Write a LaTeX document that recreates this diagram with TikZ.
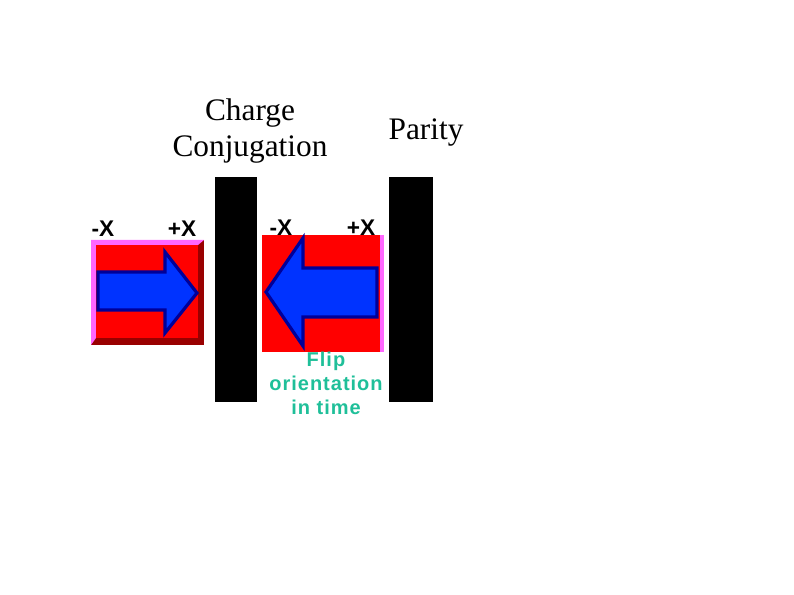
\documentclass[tikz,border=0pt]{standalone}
\usepackage{fontspec}
\setmainfont{Liberation Serif}
\setsansfont{Liberation Sans}
\newfontfamily\flipfont[LetterSpace=5]{Liberation Sans}
\usepackage{tikz}
\usetikzlibrary{positioning}
\definecolor{cardRed}{HTML}{FF0000}
\definecolor{cardDark}{HTML}{990000}
\definecolor{cardPink}{HTML}{FF66FF}
\definecolor{arrowBlue}{HTML}{0033FF}
\definecolor{arrowNavy}{HTML}{000099}
\definecolor{flipGreen}{HTML}{1FBF99}

\begin{document}
\begin{tikzpicture}[
  x=0.75pt, y=-0.75pt,
  title/.style={font=\fontsize{23.5}{27}\selectfont, align=center, inner sep=0pt},
  axislabel/.style={font=\sffamily\bfseries\fontsize{17}{20}\selectfont, inner sep=0pt},
  mirror/.style={fill=black},
  arrowshape/.style={fill=arrowBlue, draw=arrowNavy, line width=2.4pt, line join=miter},
  note/.style={font=\flipfont\bfseries\fontsize{15}{18}\selectfont, text=flipGreen,
    align=center, inner sep=0pt},
]
\useasboundingbox (0,0) rectangle (794,595);

% Titles
\node[title] (charge) at (250,131) {Charge\\Conjugation};
\node[title] (parity) at (426,133) {Parity};

% Mirrors
\fill[mirror] (215,177) rectangle (257,402);
\fill[mirror] (389,177) rectangle (433,402);

% Original card
\fill[cardDark] (91,240) rectangle (204,345);
\fill[cardPink] (91,240) -- (204,240) -- (198,245) -- (96,245) -- (96,338) -- (91,345) -- cycle;
\fill[cardRed] (96,245) rectangle (198,338);
\draw[arrowshape] (98,272) -- (165,272) -- (165,252) -- (197,293) -- (165,333)
  -- (165,310) -- (98,310) -- cycle;

% Mirrored card
\fill[cardRed] (262,235) rectangle (380,352);
\fill[cardPink] (380,235) rectangle (384,352);
\draw[arrowshape] (377,268) -- (303,268) -- (303,238) -- (266,292) -- (303,346)
  -- (303,317) -- (377,317) -- cycle;

% Axis labels
\node[axislabel] (minusA) at (103,229) {-X};
\node[axislabel] (plusA) at (182,229) {+X};
\node[axislabel] (minusB) at (281,228) {-X};
\node[axislabel] (plusB) at (361,228) {+X};

% Note
\node[note] (flip) at (326,383) {Flip\\orientation\\in time};

\end{tikzpicture}
\end{document}
